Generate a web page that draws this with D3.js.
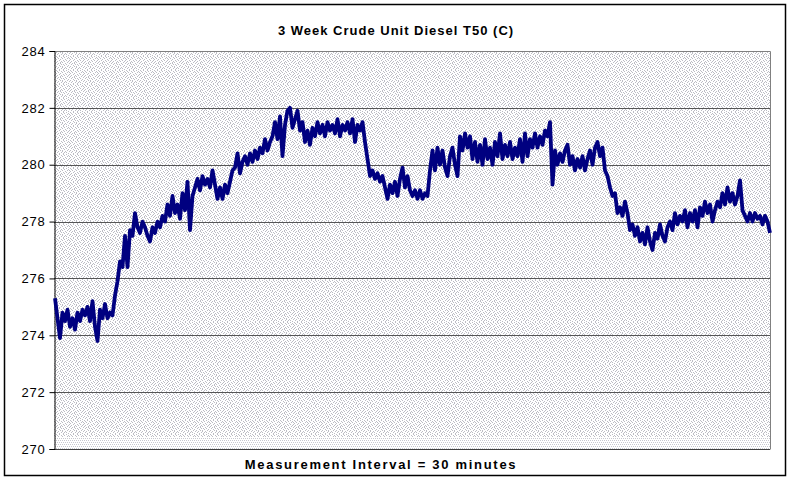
<!DOCTYPE html>
<html><head><meta charset="utf-8">
<script src="https://cdn.jsdelivr.net/npm/d3@7"></script>
<style>body{margin:0;background:#fff;}svg{display:block;font-family:Arial,"Liberation Sans",sans-serif;}</style>
</head><body>
<script>
const title = "3 Week Crude Unit Diesel T50 (C)";
const xTitle = "Measurement Interval = 30 minutes";
const yTicks = [270, 272, 274, 276, 278, 280, 282, 284];
const t50 = [
275.3,274.6,273.9,274.8,274.5,274.9,274.3,274.6,274.2,274.8,274.5,274.9,274.7,275.0,274.5,275.2,274.3,273.8,274.9,274.6,
275.1,274.6,274.8,274.7,275.4,275.9,276.6,276.4,277.5,276.4,277.7,277.5,278.3,277.8,277.6,278.0,277.8,277.5,277.3,277.8,
277.6,278.0,277.8,278.2,278.0,278.6,278.2,278.9,278.3,278.6,278.1,279.0,278.4,279.4,277.7,278.9,279.2,279.5,279.1,279.6,
279.3,279.5,279.2,279.8,279.3,278.8,279.2,278.8,279.3,279.0,279.4,279.8,279.9,280.4,279.7,280.1,280.3,280.0,280.4,280.1,
280.5,280.2,280.6,280.4,280.9,280.5,280.8,281.0,281.5,280.9,281.7,280.3,281.4,281.9,282.0,281.3,281.6,281.9,281.2,281.5,
280.8,281.2,280.7,281.3,281.0,281.5,281.1,281.4,281.0,281.5,281.2,281.4,281.1,281.6,281.0,281.4,281.2,281.5,281.1,281.6,
280.8,281.4,281.2,281.5,280.8,280.2,279.6,279.8,279.5,279.7,279.4,279.6,279.2,278.8,279.3,279.0,279.4,278.9,279.5,279.9,
279.2,279.6,279.1,278.9,279.1,278.8,279.1,278.8,279.0,278.9,279.8,280.5,279.8,280.6,280.0,280.5,279.9,279.6,280.3,280.6,
280.0,279.6,281.0,280.5,281.1,280.6,281.0,280.2,280.8,280.1,280.7,280.0,280.9,280.2,280.6,280.0,280.8,280.3,281.1,280.2,
280.7,280.3,280.8,280.2,280.6,280.3,280.9,280.1,281.1,280.3,280.9,280.6,281.1,280.6,281.0,280.7,281.2,281.0,281.5,279.3,
280.5,280.0,280.4,280.1,280.5,280.7,280.0,280.3,279.8,280.2,279.9,280.3,279.8,280.2,280.5,280.0,280.6,280.8,280.3,280.6,
279.8,279.6,279.2,278.9,279.0,278.3,278.5,278.2,278.7,278.3,277.7,277.9,277.5,277.8,277.3,277.6,277.2,277.8,277.3,277.0,
277.6,277.4,277.9,277.5,277.3,277.8,278.0,277.7,278.3,277.9,278.2,278.0,278.4,277.8,278.3,278.0,278.4,277.8,278.5,278.2,
278.7,278.3,278.6,278.0,278.4,278.7,278.5,279.0,278.6,279.2,278.7,279.0,278.6,278.9,279.45,278.4,278.2,278.0,278.3,278.0,
278.3,278.1,278.2,277.9,278.2,278.0,277.6
];

const W = 790, H = 481;
const plot = {left: 54, right: 770, top: 51, bottom: 449};

const svg = d3.select("body").append("svg").attr("width", W).attr("height", H);
const defs = svg.append("defs");
// speckled fill texture (fixed dot layout)
const speckDots = [
 [0,0],[3,0],[7,0],[10,0],[1,1],[5,1],[8,1],[12,1],[2,2],[6,2],[11,2],[13,2],[0,3],[4,3],[9,3],
 [3,4],[7,4],[10,4],[13,4],[1,5],[5,5],[8,5],[12,5],[0,6],[4,6],[6,6],[11,6],[2,7],[9,7],[13,7],
 [1,8],[5,8],[7,8],[10,8],[3,9],[8,9],[12,9],[0,10],[4,10],[6,10],[11,10],[2,11],[9,11],[13,11],
 [1,12],[5,12],[8,12],[10,12],[3,13],[7,13],[12,13],[6,11],[4,7]
];
const pat = defs.append("pattern").attr("id", "speckle").attr("patternUnits", "userSpaceOnUse")
  .attr("width", 14).attr("height", 14);
pat.append("rect").attr("width", 14).attr("height", 14).attr("fill", "#ffffff");
speckDots.forEach(([a,b]) =>
  pat.append("rect").attr("x", a).attr("y", b).attr("width", 1).attr("height", 1).attr("fill", "#bcbcc4"));
const pat2 = defs.append("pattern").attr("id", "speckle2").attr("patternUnits", "userSpaceOnUse")
  .attr("width", 4).attr("height", 4);
pat2.append("rect").attr("width", 4).attr("height", 4).attr("fill", "#ffffff");
[[0,0],[2,0],[1,2],[3,2]].forEach(([a,b]) =>
  pat2.append("rect").attr("x", a).attr("y", b).attr("width", 1).attr("height", 1).attr("fill", "#c8c8d0"));

// outer frame
svg.append("rect").attr("x", 4.5).attr("y", 4.5).attr("width", 781).attr("height", 471)
  .attr("fill", "#fff").attr("stroke", "#000").attr("stroke-width", 1.5);

const x = d3.scaleLinear().domain([0, t50.length - 1]).range([plot.left + 1, plot.right]);
const y = d3.scaleLinear().domain([270, 284]).range([plot.bottom, plot.top]);

// plot background
svg.append("rect").attr("x", plot.left).attr("y", plot.top)
  .attr("width", plot.right - plot.left).attr("height", plot.bottom - plot.top)
  .attr("fill", "url(#speckle)");
svg.append("rect").attr("x", plot.left).attr("y", plot.bottom - 12)
  .attr("width", plot.right - plot.left).attr("height", 12)
  .attr("fill", "url(#speckle2)");

// gridlines
svg.append("g").selectAll("line").data(yTicks.filter(d => d > 270 && d < 284)).join("line")
  .attr("x1", plot.left).attr("x2", plot.right)
  .attr("y1", d => Math.round(y(d)) + 0.5).attr("y2", d => Math.round(y(d)) + 0.5)
  .attr("stroke", "#555").attr("stroke-width", 1);

// plot border (top / right)
svg.append("path")
  .attr("d", `M${plot.left},${plot.top + 0.5}H${plot.right + 0.5}V${plot.bottom + 0.5}`)
  .attr("fill", "none").attr("stroke", "#808080").attr("stroke-width", 1);

// bottom axis line
svg.append("line").attr("x1", plot.left).attr("x2", plot.right)
  .attr("y1", plot.bottom + 0.5).attr("y2", plot.bottom + 0.5).attr("stroke", "#404040");

// y axis
const yAxis = d3.axisLeft(y).tickValues(yTicks).tickSize(5).tickPadding(4).tickFormat(d3.format("d"));
const gy = svg.append("g").attr("transform", `translate(${plot.left + 0.5},0)`).call(yAxis);
gy.select(".domain").attr("stroke", "#000");
gy.selectAll(".tick line").attr("stroke", "#000");
gy.selectAll("text").attr("font-size", 13).attr("fill", "#000").attr("letter-spacing", 0.8)
  .attr("font-family", "Arial, 'Liberation Sans', sans-serif");

// series line
const line = d3.line().x((d, i) => x(i)).y(d => y(d));
svg.append("path").datum(t50).attr("d", line)
  .attr("fill", "none").attr("stroke", "#000080").attr("stroke-width", 3.8)
  .attr("stroke-linejoin", "round");

// titles
svg.append("text").attr("x", 396).attr("y", 35).attr("text-anchor", "middle")
  .attr("font-size", 13).attr("font-weight", "bold").attr("letter-spacing", 1).text(title);
svg.append("text").attr("x", 381).attr("y", 469).attr("text-anchor", "middle")
  .attr("font-size", 13).attr("font-weight", "bold").attr("letter-spacing", 1.7).text(xTitle);
</script>
</body></html>
